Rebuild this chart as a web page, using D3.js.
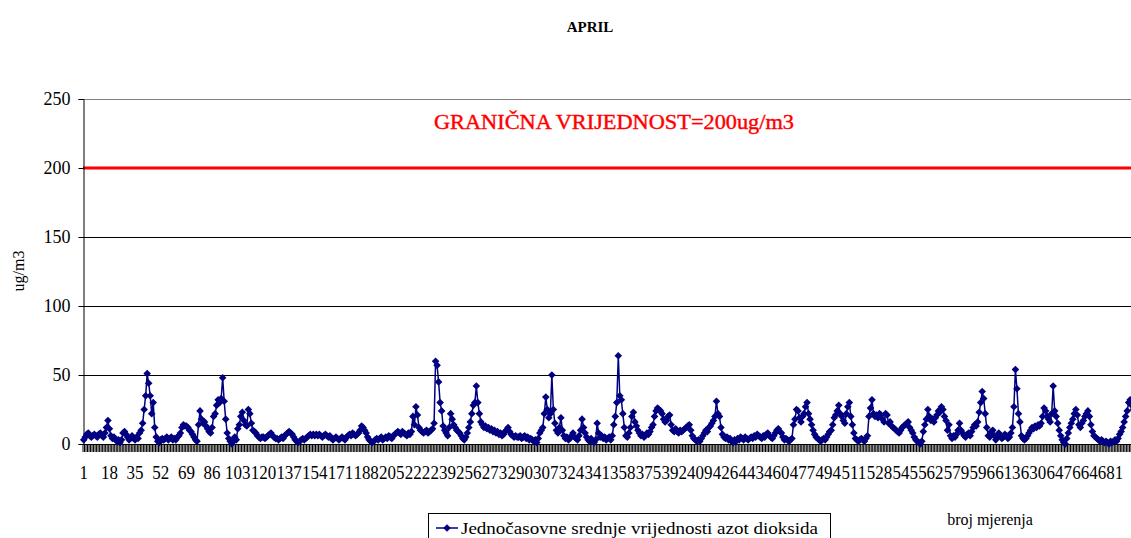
<!DOCTYPE html>
<html>
<head>
<meta charset="utf-8">
<script src="https://cdn.jsdelivr.net/npm/d3@7"></script>
<style>
  body { margin: 0; background: #fff; }
  svg { display: block; font-family: "Liberation Serif", "Times New Roman", serif; }
</style>
</head>
<body>
<svg id="chart" width="1131" height="538"></svg>
<script>
// hourly NO2 values (ug/m3), one row per day
var no2 = [
  3,5,7,8,6,5,6,7,6,5,7,8,6,5,8,12,17,11,6,4,5,3,2,3,
  1,3,8,9,7,5,3,4,6,4,3,5,4,8,10,15,25,35,51,44,35,22,30,12,
  5,2,1,3,4,3,4,5,3,4,5,3,4,3,5,6,8,12,14,13,13,12,10,9,
  7,5,3,2,14,24,18,15,16,13,11,9,8,12,20,22,28,32,30,33,48,31,18,8,
  4,2,0,2,5,3,11,14,20,23,17,14,13,25,22,15,10,9,8,6,5,4,5,5,
  4,5,6,7,8,6,5,4,4,3,4,5,4,6,7,8,9,8,7,5,3,2,1,2,
  3,4,3,4,5,6,7,6,7,6,7,6,7,6,5,6,7,6,5,6,4,3,4,5,
  4,3,4,5,4,3,5,6,7,6,8,7,6,7,8,10,13,12,10,8,5,3,2,1,
  2,3,4,3,4,5,3,4,5,4,6,5,4,6,7,8,9,8,7,9,8,7,6,8,
  7,9,20,14,27,21,12,10,9,8,9,10,8,9,10,11,15,60,57,45,30,24,13,10,
  8,6,12,22,18,14,12,10,9,8,6,4,3,5,8,12,16,22,28,30,42,30,22,16,
  14,12,13,11,12,10,11,9,10,8,9,7,8,6,7,9,10,12,9,7,6,5,6,5,
  5,6,4,5,6,4,5,3,4,3,2,3,1,4,8,10,12,22,34,25,19,22,50,25,
  15,10,8,12,19,10,6,4,5,3,4,6,8,5,4,3,6,10,18,12,8,5,3,2,
  4,2,1,3,15,8,5,6,4,5,3,4,5,3,6,14,20,30,64,35,32,22,12,6,
  5,8,12,20,23,16,13,10,8,6,7,5,6,8,7,9,12,14,20,24,26,25,24,22,
  18,16,17,20,21,14,10,9,11,9,8,10,9,10,11,12,13,14,10,6,4,3,2,3,
  2,4,6,8,10,9,12,13,15,17,20,31,22,20,12,7,5,4,5,3,4,2,1,3,
  2,4,3,5,4,3,5,4,3,4,5,4,6,5,7,6,5,4,6,5,7,8,6,5,
  4,6,8,10,11,9,8,5,3,4,3,2,3,4,14,18,25,24,19,16,20,22,27,30,
  22,18,14,10,7,5,4,3,2,3,4,3,5,7,9,10,14,19,21,24,28,22,20,17,
  15,22,27,30,20,14,8,4,3,2,3,4,3,2,4,6,20,26,32,22,20,21,19,22,
  21,18,16,22,21,15,16,13,12,11,10,9,8,10,12,13,14,15,16,12,10,8,5,3,
  2,1,0,2,9,14,18,25,20,17,18,16,19,21,24,23,27,25,20,17,10,14,6,4,
  6,5,7,10,15,10,8,6,5,7,8,6,9,12,14,13,16,23,30,38,33,22,12,6,
  5,9,10,6,3,5,8,6,4,5,7,6,4,5,8,12,27,54,40,22,16,6,4,3,
  4,6,8,10,12,11,13,12,14,13,15,20,26,24,20,18,16,22,42,24,20,15,10,6,
  3,1,0,4,8,12,15,18,22,25,21,14,12,15,17,20,22,24,20,14,9,6,5,4,
  3,2,3,2,1,2,1,0,2,1,2,3,2,4,7,9,12,16,20,24,30,32,28,25
];
var measureCount = 720; // 30 days x 24 h
var xTickLabels = [1,18,35,52,69,86,103,120,137,154,171,188,205,222,239,256,273,290,
  307,324,341,358,375,392,409,426,443,460,477,494,511,528,545,562,579,596,613,630,
  647,664,681,698,715];
var yTicks = [0, 50, 100, 150, 200, 250];
var limitValue = 200;

var svg = d3.select("#chart");
var W = 1131;
var plotLeft = 83, plotTop = 99, plotBottom = 444;
var step = 1.51;

var x = d3.scaleLinear().domain([0.5, measureCount + 0.5]).range([plotLeft, plotLeft + measureCount * step]);
var y = d3.scaleLinear().domain([0, 250]).range([plotBottom, plotTop]);

var navy = "#000080";

// title
svg.append("text").attr("x", 590).attr("y", 32).attr("text-anchor", "middle")
  .style("font-size", "15px").style("font-weight", "bold").text("APRIL");

// gridlines
svg.append("g").selectAll("line").data(yTicks.filter(d => d > 0 && d != limitValue)).enter()
  .append("line")
  .attr("x1", plotLeft).attr("x2", W)
  .attr("y1", d => Math.round(y(d)) + 0.5).attr("y2", d => Math.round(y(d)) + 0.5)
  .attr("stroke", d => d == 250 ? "#808080" : "#000")
  .attr("stroke-width", 1);

// limit line
svg.append("line").attr("x1", plotLeft).attr("x2", W)
  .attr("y1", y(limitValue)).attr("y2", y(limitValue))
  .attr("stroke", "#ff0000").attr("stroke-width", 3);

svg.append("text").attr("x", 434).attr("y", 129)
  .attr("textLength", 360).attr("lengthAdjust", "spacingAndGlyphs")
  .style("font-size", "20px").attr("fill", "#ff0000")
  .attr("stroke", "#ff0000").attr("stroke-width", 0.4)
  .text("GRANIČNA VRIJEDNOST=200ug/m3");

// y axis
var yAxis = d3.axisLeft(y).tickValues(yTicks).tickSize(5).tickPadding(8);
var gy = svg.append("g").attr("transform", "translate(" + (plotLeft + 0.5) + ",0)").call(yAxis);
gy.select(".domain").attr("stroke", "#000");
gy.selectAll("text").style("font-size", "18px").style("font-family", "Liberation Serif").attr("fill", "#000");

svg.append("text").attr("transform", "translate(24,271) rotate(-90)")
  .attr("text-anchor", "middle").style("font-size", "16px").text("ug/m3");

// x axis: one tick per category boundary, labels every 17th
svg.append("line").attr("x1", plotLeft).attr("x2", W)
  .attr("y1", plotBottom + 0.5).attr("y2", plotBottom + 0.5).attr("stroke", "#000");
svg.append("g").selectAll("line").data(d3.range(measureCount + 1)).enter()
  .append("line")
  .attr("x1", d => x(d + 0.5)).attr("x2", d => x(d + 0.5))
  .attr("y1", plotBottom).attr("y2", plotBottom + 8)
  .attr("stroke", "#000").attr("stroke-width", 1);

// only labels that fit fully inside the picture
var labelFont = 17;
svg.append("g").selectAll("text")
  .data(xTickLabels.filter(d => x(d) + String(d).length * labelFont * 0.25 <= W))
  .enter()
  .append("text")
  .attr("transform", d => "translate(" + x(d) + ",479) scale(1,1.15)")
  .attr("text-anchor", "middle")
  .style("font-size", labelFont + "px")
  .text(d => d);

// series
var line = d3.line().x((d, i) => x(i + 1)).y(d => y(d));
svg.append("path").datum(no2)
  .attr("fill", "none").attr("stroke", navy).attr("stroke-width", 1.5)
  .attr("d", line);

var diamond = "M0,-3.8L3.8,0L0,3.8L-3.8,0Z";
svg.append("g").selectAll("path").data(no2).enter()
  .append("path")
  .attr("d", diamond)
  .attr("transform", (d, i) => "translate(" + x(i + 1) + "," + y(d) + ")")
  .attr("fill", navy);

// legend
var lg = svg.append("g");
lg.append("rect").attr("x", 428.5).attr("y", 513.5).attr("width", 402).attr("height", 40)
  .attr("fill", "none").attr("stroke", "#000");
lg.append("line").attr("x1", 436).attr("x2", 458).attr("y1", 528).attr("y2", 528)
  .attr("stroke", navy).attr("stroke-width", 1.5);
lg.append("path").attr("d", diamond).attr("transform", "translate(447,528)").attr("fill", navy);
lg.append("text").attr("x", 461).attr("y", 534)
  .attr("textLength", 357).attr("lengthAdjust", "spacingAndGlyphs")
  .style("font-size", "16px").text("Jednočasovne srednje vrijednosti azot dioksida");

svg.append("text").attr("x", 990).attr("y", 525).attr("text-anchor", "middle")
  .style("font-size", "16px").text("broj mjerenja");
</script>
</body>
</html>
